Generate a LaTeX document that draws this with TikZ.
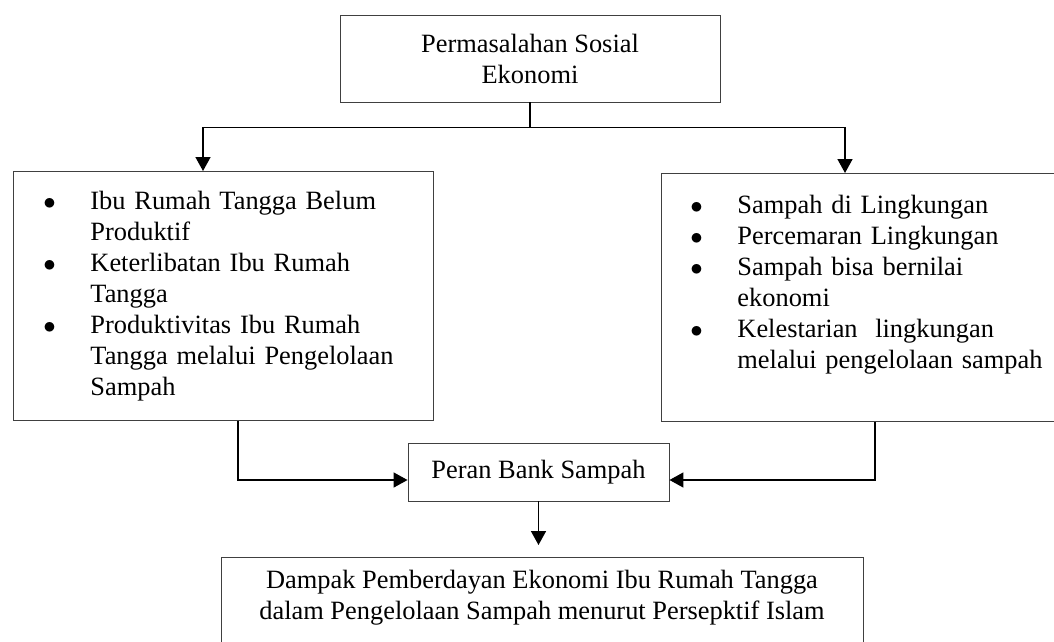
\documentclass[tikz,border=0pt]{standalone}
\usepackage{fontspec}
\setmainfont{Liberation Serif}
\usetikzlibrary{arrows.meta,positioning}

\newcommand{\bul}{\makebox[42pt][l]{\hspace{-5pt}$\bullet$}}
\newcommand{\ind}{\hspace*{42pt}}

\begin{document}
\begin{tikzpicture}[x=1pt,y=-1pt,
    box/.style={draw=black!75,line width=0.9pt,font=\fontsize{26.4}{31}\selectfont},
    conn/.style={line width=1.6pt},
    arr/.style={conn,-{Triangle[width=15pt,length=14pt]}}]
    \useasboundingbox (0,0) rectangle (1054,642);

    % Boxes
    \node[box,minimum width=380pt,minimum height=87pt,align=center] (topbox) at (530,58.5)
        {Permasalahan Sosial\\Ekonomi};
    \node[box,anchor=north west,minimum width=420pt,minimum height=249pt,
          inner xsep=35pt,text width=350pt,align=left] (leftbox) at (13,171)
        {\bul Ibu Rumah Tangga Belum\\
         \ind Produktif\\
         \bul Keterlibatan Ibu Rumah\\
         \ind Tangga\\
         \bul Produktivitas Ibu Rumah\\
         \ind Tangga melalui Pengelolaan\\
         \ind Sampah};
    \node[box,anchor=north west,minimum width=420pt,minimum height=248pt,
          inner xsep=34pt,text width=352pt,align=left] (rightbox) at (661,173)
        {\bul Sampah di Lingkungan\\
         \bul Percemaran Lingkungan\\
         \bul Sampah bisa bernilai\\
         \ind ekonomi\\
         \bul Kelestarian~ lingkungan\\
         \ind melalui pengelolaan sampah\\
         \mbox{}};
    \node[box,minimum width=261pt,minimum height=58pt] (peran) at (538.5,472)
        {Peran Bank Sampah};
    \node[box,anchor=north,minimum width=642pt,inner ysep=13pt,align=center] (dampak) at (542,557)
        {Dampak Pemberdayan Ekonomi Ibu Rumah Tangga\\
         dalam Pengelolaan Sampah menurut Persepktif Islam\\
         \mbox{}};

    % Connectors
    \draw[conn] (topbox.south) -- ++(0,25) coordinate (split);
    \draw[arr] (split) -| ([xshift=190pt]leftbox.north west);
    \draw[arr] (split) -| ([xshift=184pt]rightbox.north west);
    \draw[arr] ([xshift=225pt]leftbox.south west) |- ([yshift=-8pt]peran.west);
    \draw[arr] ([xshift=214pt]rightbox.south west) |- ([yshift=-8pt]peran.east);
    \draw[arr,shorten >=12pt] (peran.south) -- (dampak.north -| peran.south);
\end{tikzpicture}
\end{document}
